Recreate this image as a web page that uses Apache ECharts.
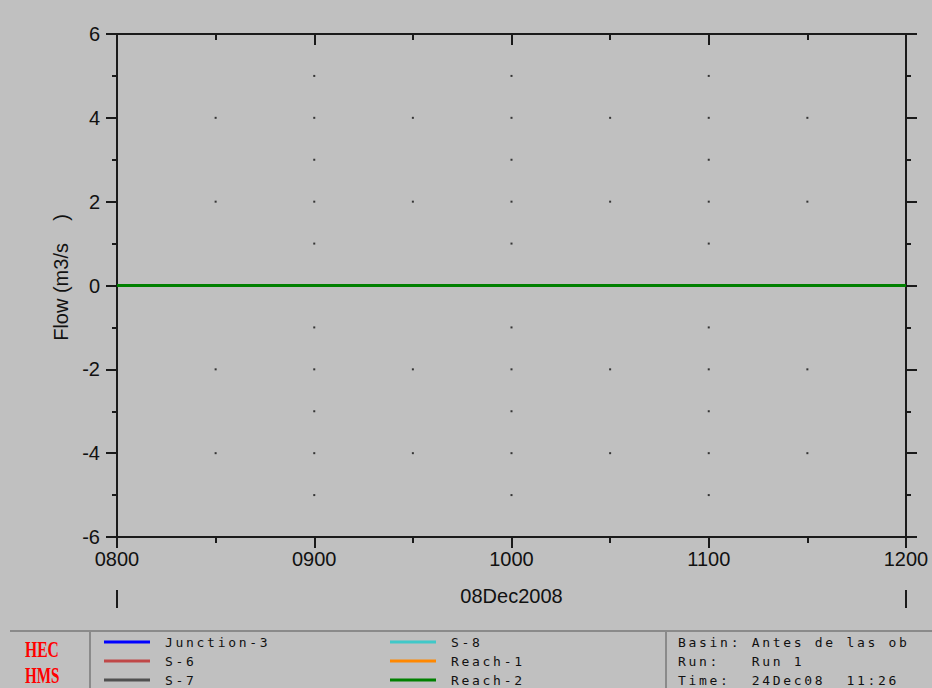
<!DOCTYPE html>
<html>
<head>
<meta charset="utf-8">
<script src="https://cdn.jsdelivr.net/npm/echarts@6/dist/echarts.min.js"></script>
<style>
  html, body { margin: 0; padding: 0; background: #c0c0c0; }
  #main { width: 932px; height: 688px; }
  #main text[style*="Mono"], #main text[font-family*="Mono"] { letter-spacing: 2.7px; }
</style>
</head>
<body>
<div id="main"></div>
<script>
// ---- data ----
const hours = [8, 9, 10, 11, 12];
const xTickLabels = ['0800', '0900', '1000', '1100', '1200'];
const yTicks = [-6, -4, -2, 0, 2, 4, 6];
const seriesNames = ['Junction-3', 'S-6', 'S-7', 'S-8', 'Reach-1', 'Reach-2'];
const junction3 = [0, 0, 0, 0, 0];
const s6 = [0, 0, 0, 0, 0];
const s7 = [0, 0, 0, 0, 0];
const s8 = [0, 0, 0, 0, 0];
const reach1 = [0, 0, 0, 0, 0];
const reach2 = [0, 0, 0, 0, 0];
const dateLabel = '08Dec2008';
const infoLines = ['Basin: Antes de las ob', 'Run:   Run 1', 'Time:  24Dec08  11:26'];
// grid dot positions (gridline intersections)
const dotHoursMajor = [9, 10, 11];
const dotValuesAll = [-5, -4, -3, -2, -1, 1, 2, 3, 4, 5];
const dotHoursMinor = [8.5, 9.5, 10.5, 11.5];
const dotValuesMajor = [-4, -2, 2, 4];

// ---- styles ----
const colors = ['#0000ff', '#c04848', '#505050', '#40c8c8', '#ff8800', '#008000'];
const valueSets = [junction3, s6, s7, s8, reach1, reach2];
const axisColor = '#1a1a1a';
const labelFont = 'Liberation Sans';
const monoFont = 'DejaVu Sans Mono';
const rowY = [642, 661, 680];

const dots = [];
dotHoursMajor.forEach(h => dotValuesAll.forEach(v => dots.push([h, v])));
dotHoursMinor.forEach(h => dotValuesMajor.forEach(v => dots.push([h, v])));

const xLabelFmt = v => {
  const i = hours.indexOf(v);
  return i >= 0 ? xTickLabels[i] : '';
};

const chart = echarts.init(document.getElementById('main'), null, { renderer: 'svg' });

const lineSeries = seriesNames.map((name, i) => ({
  name: name,
  type: 'line',
  data: hours.map((h, j) => [h, valueSets[i][j]]),
  symbol: 'none',
  color: colors[i],
  lineStyle: { color: colors[i], width: 3 },
  z: 3 + i
}));

const legendBase = {
  orient: 'vertical',
  top: rowY[0] - 7,
  height: 60,
  icon: 'rect',
  itemWidth: 46, itemHeight: 3, itemGap: 5,
  padding: 0,
  selectedMode: false,
  textStyle: { fontFamily: monoFont, fontSize: 13, color: '#111', lineHeight: 14, height: 14, padding: [0, 0, 0, 10] }
};

const option = {
  backgroundColor: '#c0c0c0',
  animation: false,
  grid: { left: 117, right: 26, top: 34, bottom: 151 },
  xAxis: [
    {
      type: 'value', position: 'bottom', min: 8, max: 12, interval: 1,
      axisLine: { show: true, onZero: false, lineStyle: { color: axisColor, width: 2 } },
      axisTick: { show: true, length: 11, lineStyle: { color: axisColor, width: 2 } },
      minorTick: { show: true, splitNumber: 2, length: 6, lineStyle: { color: axisColor, width: 2 } },
      splitLine: { show: false },
      axisLabel: { formatter: xLabelFmt, fontSize: 20, fontFamily: labelFont, color: '#111', margin: 12 },
      name: dateLabel, nameLocation: 'middle', nameGap: 49,
      nameTextStyle: { fontSize: 20, fontFamily: labelFont, color: '#111' }
    },
    {
      type: 'value', position: 'top', min: 8, max: 12, interval: 1,
      axisLine: { show: true, onZero: false, lineStyle: { color: axisColor, width: 2 } },
      axisTick: { show: true, inside: true, length: 11, lineStyle: { color: axisColor, width: 2 } },
      minorTick: { show: true, splitNumber: 2, length: 6, lineStyle: { color: axisColor, width: 2 } },
      splitLine: { show: false },
      axisLabel: { show: false }
    },
    {
      type: 'value', position: 'bottom', offset: 53, min: 8, max: 12, interval: 4,
      axisLine: { show: false, onZero: false },
      axisTick: { show: true, length: 18, lineStyle: { color: axisColor, width: 2 } },
      splitLine: { show: false },
      axisLabel: { show: false }
    }
  ],
  yAxis: [
    {
      type: 'value', position: 'left', min: -6, max: 6, interval: 2,
      axisLine: { show: true, onZero: false, lineStyle: { color: axisColor, width: 2 } },
      axisTick: { show: true, length: 11, lineStyle: { color: axisColor, width: 2 } },
      minorTick: { show: true, splitNumber: 2, length: 5, lineStyle: { color: axisColor, width: 2 } },
      splitLine: { show: false },
      axisLabel: { fontSize: 20, fontFamily: labelFont, color: '#111', margin: 17,
        formatter: v => (yTicks.indexOf(v) >= 0 ? String(v) : '') },
      name: 'Flow (m3/s    )', nameLocation: 'middle', nameGap: 42, nameRotate: 90,
      nameTextStyle: { fontSize: 20, fontFamily: labelFont, color: '#111', padding: [0, 0, 0, 16] }
    },
    {
      type: 'value', position: 'right', min: -6, max: 6, interval: 2,
      axisLine: { show: true, onZero: false, lineStyle: { color: axisColor, width: 2 } },
      axisTick: { show: true, length: 11, lineStyle: { color: axisColor, width: 2 } },
      minorTick: { show: true, splitNumber: 2, length: 5, lineStyle: { color: axisColor, width: 2 } },
      splitLine: { show: false },
      axisLabel: { show: false }
    }
  ],
  legend: [
    Object.assign({}, legendBase, { left: 104, data: seriesNames.slice(0, 3) }),
    Object.assign({}, legendBase, { left: 390, data: seriesNames.slice(3, 6) })
  ],
  graphic: [
    { type: 'line', shape: { x1: 10, y1: 631, x2: 932, y2: 631 }, style: { stroke: '#8a8a8a', lineWidth: 2 }, silent: true },
    { type: 'line', shape: { x1: 90, y1: 631, x2: 90, y2: 688 }, style: { stroke: '#8a8a8a', lineWidth: 2 }, silent: true },
    { type: 'line', shape: { x1: 666, y1: 631, x2: 666, y2: 688 }, style: { stroke: '#8a8a8a', lineWidth: 2 }, silent: true },
    { type: 'text', x: 25, y: 637, scaleX: 0.68, style: { text: 'HEC', font: 'bold 23px "Liberation Serif"', fill: '#ff0000' }, silent: true },
    { type: 'text', x: 25, y: 664, scaleX: 0.66, style: { text: 'HMS', font: 'bold 23px "Liberation Serif"', fill: '#ff0000' }, silent: true },
    { type: 'text', x: 678, y: rowY[0], style: { text: infoLines[0], font: '13px "DejaVu Sans Mono"', fill: '#111', verticalAlign: 'middle' }, silent: true },
    { type: 'text', x: 678, y: rowY[1], style: { text: infoLines[1], font: '13px "DejaVu Sans Mono"', fill: '#111', verticalAlign: 'middle' }, silent: true },
    { type: 'text', x: 678, y: rowY[2], style: { text: infoLines[2], font: '13px "DejaVu Sans Mono"', fill: '#111', verticalAlign: 'middle' }, silent: true }
  ],
  series: [
    {
      name: 'grid-dots', type: 'scatter', data: dots, symbol: 'rect', symbolSize: 2,
      itemStyle: { color: '#111' }, silent: true, z: 1
    }
  ].concat(lineSeries)
};

chart.setOption(option);
</script>
</body>
</html>
